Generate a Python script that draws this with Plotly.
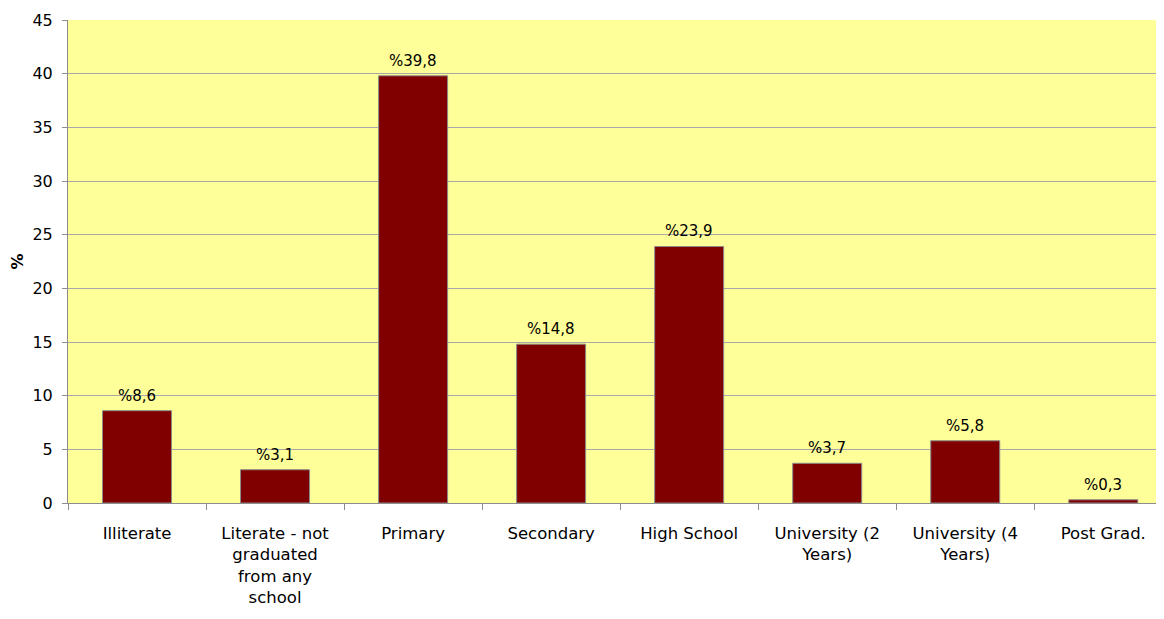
import plotly.graph_objects as go

categories = [
    "Illiterate",
    "Literate - not<br>graduated<br>from any<br>school",
    "Primary",
    "Secondary",
    "High School",
    "University (2<br>Years)",
    "University (4<br>Years)",
    "Post Grad.",
]
values = [8.6, 3.1, 39.8, 14.8, 23.9, 3.7, 5.8, 0.3]
y_ticks = [0, 5, 10, 15, 20, 25, 30, 35, 40, 45]

labels = ["%" + f"{v:.1f}".replace(".", ",") for v in values]

FONT = "DejaVu Sans"

fig = go.Figure(
    go.Bar(
        x=categories,
        y=values,
        marker=dict(color="#800000", line=dict(color="#8c8c8c", width=1)),
        width=0.5,
    )
)

for c, v, t in zip(categories, values, labels):
    fig.add_annotation(
        x=c, y=v, text=t, showarrow=False, yanchor="bottom", yshift=4,
        font=dict(family=FONT, size=15, color="black"),
    )

fig.update_layout(
    width=1156,
    height=611,
    margin=dict(l=60, r=0, t=12, b=116),
    paper_bgcolor="white",
    plot_bgcolor="#FFFF99",
    font=dict(family=FONT, size=16, color="black"),
    showlegend=False,
)

fig.update_xaxes(
    type="category",
    range=[-0.5, 7.44],
    automargin=False,
    tickson="boundaries",
    ticks="outside",
    ticklen=6,
    tickcolor="#8c8c8c",
    showline=True,
    linecolor="#8c8c8c",
    linewidth=1,
    showgrid=False,
    tickfont=dict(family=FONT, size=16.5),
    ticklabelstandoff=15,
)

fig.update_yaxes(
    range=[0, 45],
    automargin=False,
    tickvals=y_ticks,
    ticks="outside",
    ticklen=5,
    tickcolor="#8c8c8c",
    showline=True,
    linecolor="#8c8c8c",
    linewidth=1,
    showgrid=True,
    gridcolor="#a8a8a8",
    gridwidth=1,
    zeroline=False,
    tickfont=dict(family=FONT, size=16),
    ticklabelstandoff=6,
    title=dict(text="<b>%</b>", font=dict(family=FONT, size=16), standoff=14),
)

fig.write_html("out.html")
